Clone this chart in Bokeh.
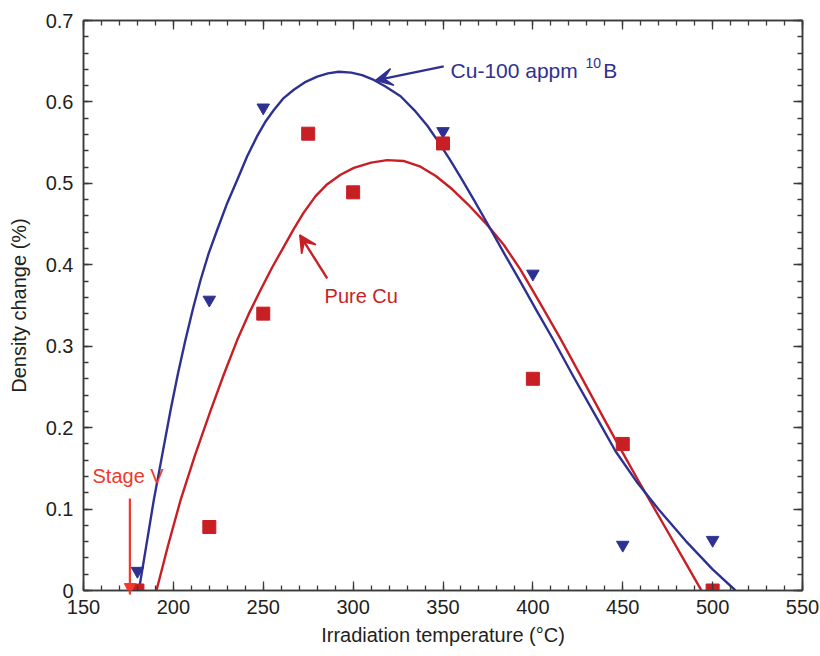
import numpy as np
from bokeh.plotting import figure
from bokeh.models import (Range1d, FixedTicker, LinearAxis, Label, Arrow,
                          VeeHead, NormalHead, Title)
from bokeh.embed import file_html
from bokeh.resources import INLINE

# ---------------- data ----------------
pure_cu_temp = [180, 220, 250, 275, 300, 350, 400, 450, 500]
pure_cu_change = [0.0, 0.078, 0.340, 0.561, 0.489, 0.549, 0.260, 0.180, 0.0]

boron_temp = [180, 220, 250, 350, 400, 450, 500]
boron_change = [0.024, 0.357, 0.593, 0.564, 0.389, 0.056, 0.062]

# fitted curves
boron_fit_temp = [180.8, 185.0, 189.1, 194.0, 198.4, 202.5, 206.7, 211.0, 215.1,
                  219.5, 224.4, 230.0, 235.5, 241.0, 246.6, 251.0, 255.9, 261.0,
                  267.0, 273.0, 280.0, 286.0, 292.0, 299.0, 305.0, 311.5, 318.0,
                  326.4, 334.0, 341.2, 347.5, 354.2, 360.5, 367.1, 374.6, 384.0,
                  393.1, 402.0, 411.6, 423.0, 435.8, 446.0, 457.6, 470.0, 485.0,
                  500.0, 512.7]
boron_fit_change = [0.0, 0.056, 0.111, 0.169, 0.221, 0.266, 0.3075, 0.347, 0.381,
                    0.413, 0.443, 0.476, 0.504, 0.533, 0.558, 0.575, 0.590, 0.604,
                    0.615, 0.624, 0.631, 0.635, 0.637, 0.636, 0.633, 0.627, 0.619,
                    0.607, 0.590, 0.571, 0.551, 0.528, 0.505, 0.480, 0.451, 0.414,
                    0.379, 0.344, 0.307, 0.261, 0.211, 0.171, 0.134, 0.0995, 0.061,
                    0.026, 0.0]

pure_fit_temp = [190.6, 197.0, 204.0, 212.0, 220.7, 228.0, 235.5, 242.0, 248.5,
                 255.0, 261.4, 267.0, 272.5, 279.0, 285.6, 293.0, 300.4, 310.0,
                 319.0, 328.0, 337.5, 346.0, 355.0, 364.0, 374.6, 384.0, 393.1,
                 404.0, 415.4, 427.0, 439.5, 449.0, 458.4, 467.0, 475.6, 485.0,
                 493.8]
pure_fit_change = [0.0, 0.055, 0.111, 0.166, 0.221, 0.265, 0.3075, 0.340, 0.369,
                   0.397, 0.422, 0.444, 0.464, 0.484, 0.499, 0.5105, 0.519, 0.5255,
                   0.5285, 0.5275, 0.5205, 0.509, 0.493, 0.474, 0.449, 0.424, 0.394,
                   0.353, 0.309, 0.262, 0.211, 0.173, 0.136, 0.103, 0.070, 0.034,
                   0.0]

x_ticks = [150, 200, 250, 300, 350, 400, 450, 500, 550]
y_ticks = [0, 0.1, 0.2, 0.3, 0.4, 0.5, 0.6, 0.7]
y_tick_labels = {0: "0"}

# ---------------- styling ----------------
RED = "#C81F25"
BLUE = "#2E3192"
STAGE = "#EE3A2C"
AXIS = "#3A3A3A"
TEXT = "#231F20"
FONT = "Liberation Sans"

p = figure(width=820, height=656, output_backend="svg", toolbar_location=None,
           x_range=Range1d(150, 550), y_range=Range1d(0, 0.7),
           min_border_left=83, min_border_right=18, min_border_top=20,
           min_border_bottom=66)
p.xgrid.visible = False
p.ygrid.visible = False
p.outline_line_color = AXIS
p.outline_line_width = 1.5
p.background_fill_color = "white"
p.border_fill_color = "white"

xt = FixedTicker(ticks=x_ticks, minor_ticks=list(np.arange(150, 551, 10)))
yt = FixedTicker(ticks=y_ticks, minor_ticks=list(np.round(np.arange(0, 0.701, 0.02), 2)))


def style_axis(ax, ticks, labels=True):
    ax.axis_line_color = AXIS
    ax.axis_line_width = 1.5
    ax.major_tick_line_color = AXIS
    ax.minor_tick_line_color = AXIS
    ax.major_tick_line_width = 1.3
    ax.minor_tick_line_width = 1.3
    ax.major_tick_in = 9
    ax.major_tick_out = 0
    ax.minor_tick_in = 5
    ax.minor_tick_out = 0
    if labels:
        ax.major_label_text_font = FONT
        ax.major_label_text_font_size = "20px"
        ax.major_label_text_color = TEXT
        ax.axis_label_text_font = FONT
        ax.axis_label_text_font_size = "20px"
        ax.axis_label_text_font_style = "normal"
        ax.axis_label_text_color = TEXT
    else:
        ax.major_label_overrides = {t: "" for t in ticks}
        ax.major_label_text_font_size = "8px"
        ax.major_label_standoff = 0
        ax.axis_label = None


xa = p.xaxis[0]
xa.ticker = xt
style_axis(xa, x_ticks)
xa.major_label_standoff = 9

ya = p.yaxis[0]
ya.ticker = yt
ya.axis_label = "Density change (%)"
ya.major_label_overrides = y_tick_labels
style_axis(ya, y_ticks)
ya.major_label_standoff = 10
ya.axis_label_standoff = 13

top = LinearAxis(ticker=xt)
style_axis(top, x_ticks, labels=False)
p.add_layout(top, "above")
right = LinearAxis(ticker=yt)
style_axis(right, y_ticks, labels=False)
p.add_layout(right, "right")

# x-axis title as a below-panel title
p.add_layout(Title(text="Irradiation temperature (°C)", align="center",
                   vertical_align="bottom",
                   text_font=FONT, text_font_size="20px",
                   text_font_style="normal", text_color=TEXT, standoff=11),
             "below")

# curves
p.line(pure_fit_temp, pure_fit_change, line_color=RED, line_width=2.4,
       line_join="round")
p.line(boron_fit_temp, boron_fit_change, line_color=BLUE, line_width=2.4,
       line_join="round")

# points
p.scatter(boron_temp, boron_change, marker="inverted_triangle", size=12.5,
          fill_color=BLUE, line_color=BLUE)
p.scatter(pure_cu_temp, pure_cu_change, marker="square", size=13,
          fill_color=RED, line_color=RED)

# annotations
p.add_layout(Arrow(x_start=350.4, y_start=0.6437, x_end=312.5, y_end=0.6265,
                   line_color=BLUE, line_width=2.4,
                   end=VeeHead(size=17, fill_color=BLUE, line_color=BLUE,
                               line_width=1.5)))
p.add_layout(Label(x=354.2, y=0.6385, text="Cu-100 appm", text_font=FONT,
                   text_font_size="21px", text_color=BLUE,
                   text_baseline="alphabetic"))
p.add_layout(Label(x=429.3, y=0.648, text="10", text_font=FONT,
                   text_font_size="14px", text_color=BLUE,
                   text_baseline="alphabetic"))
p.add_layout(Label(x=439.2, y=0.6385, text="B", text_font=FONT,
                   text_font_size="21px", text_color=BLUE,
                   text_baseline="alphabetic"))

p.add_layout(Arrow(x_start=285.6, y_start=0.3834, x_end=270.3, y_end=0.4367,
                   line_color=RED, line_width=2.4,
                   end=VeeHead(size=17, fill_color=RED, line_color=RED,
                               line_width=1.5)))
p.add_layout(Label(x=284.1, y=0.3615, text="Pure Cu", text_font=FONT,
                   text_font_size="20px", text_color=RED,
                   text_baseline="alphabetic"))

p.add_layout(Arrow(x_start=175.8, y_start=0.113, x_end=175.8, y_end=-0.005,
                   line_color=STAGE, line_width=2.2,
                   end=NormalHead(size=11, fill_color=STAGE, line_color=STAGE)))
p.add_layout(Label(x=155.0, y=0.141, text="Stage V", text_font=FONT,
                   text_font_size="20px", text_color=STAGE,
                   text_baseline="alphabetic"))

open("out.html", "w").write(file_html(p, INLINE))
